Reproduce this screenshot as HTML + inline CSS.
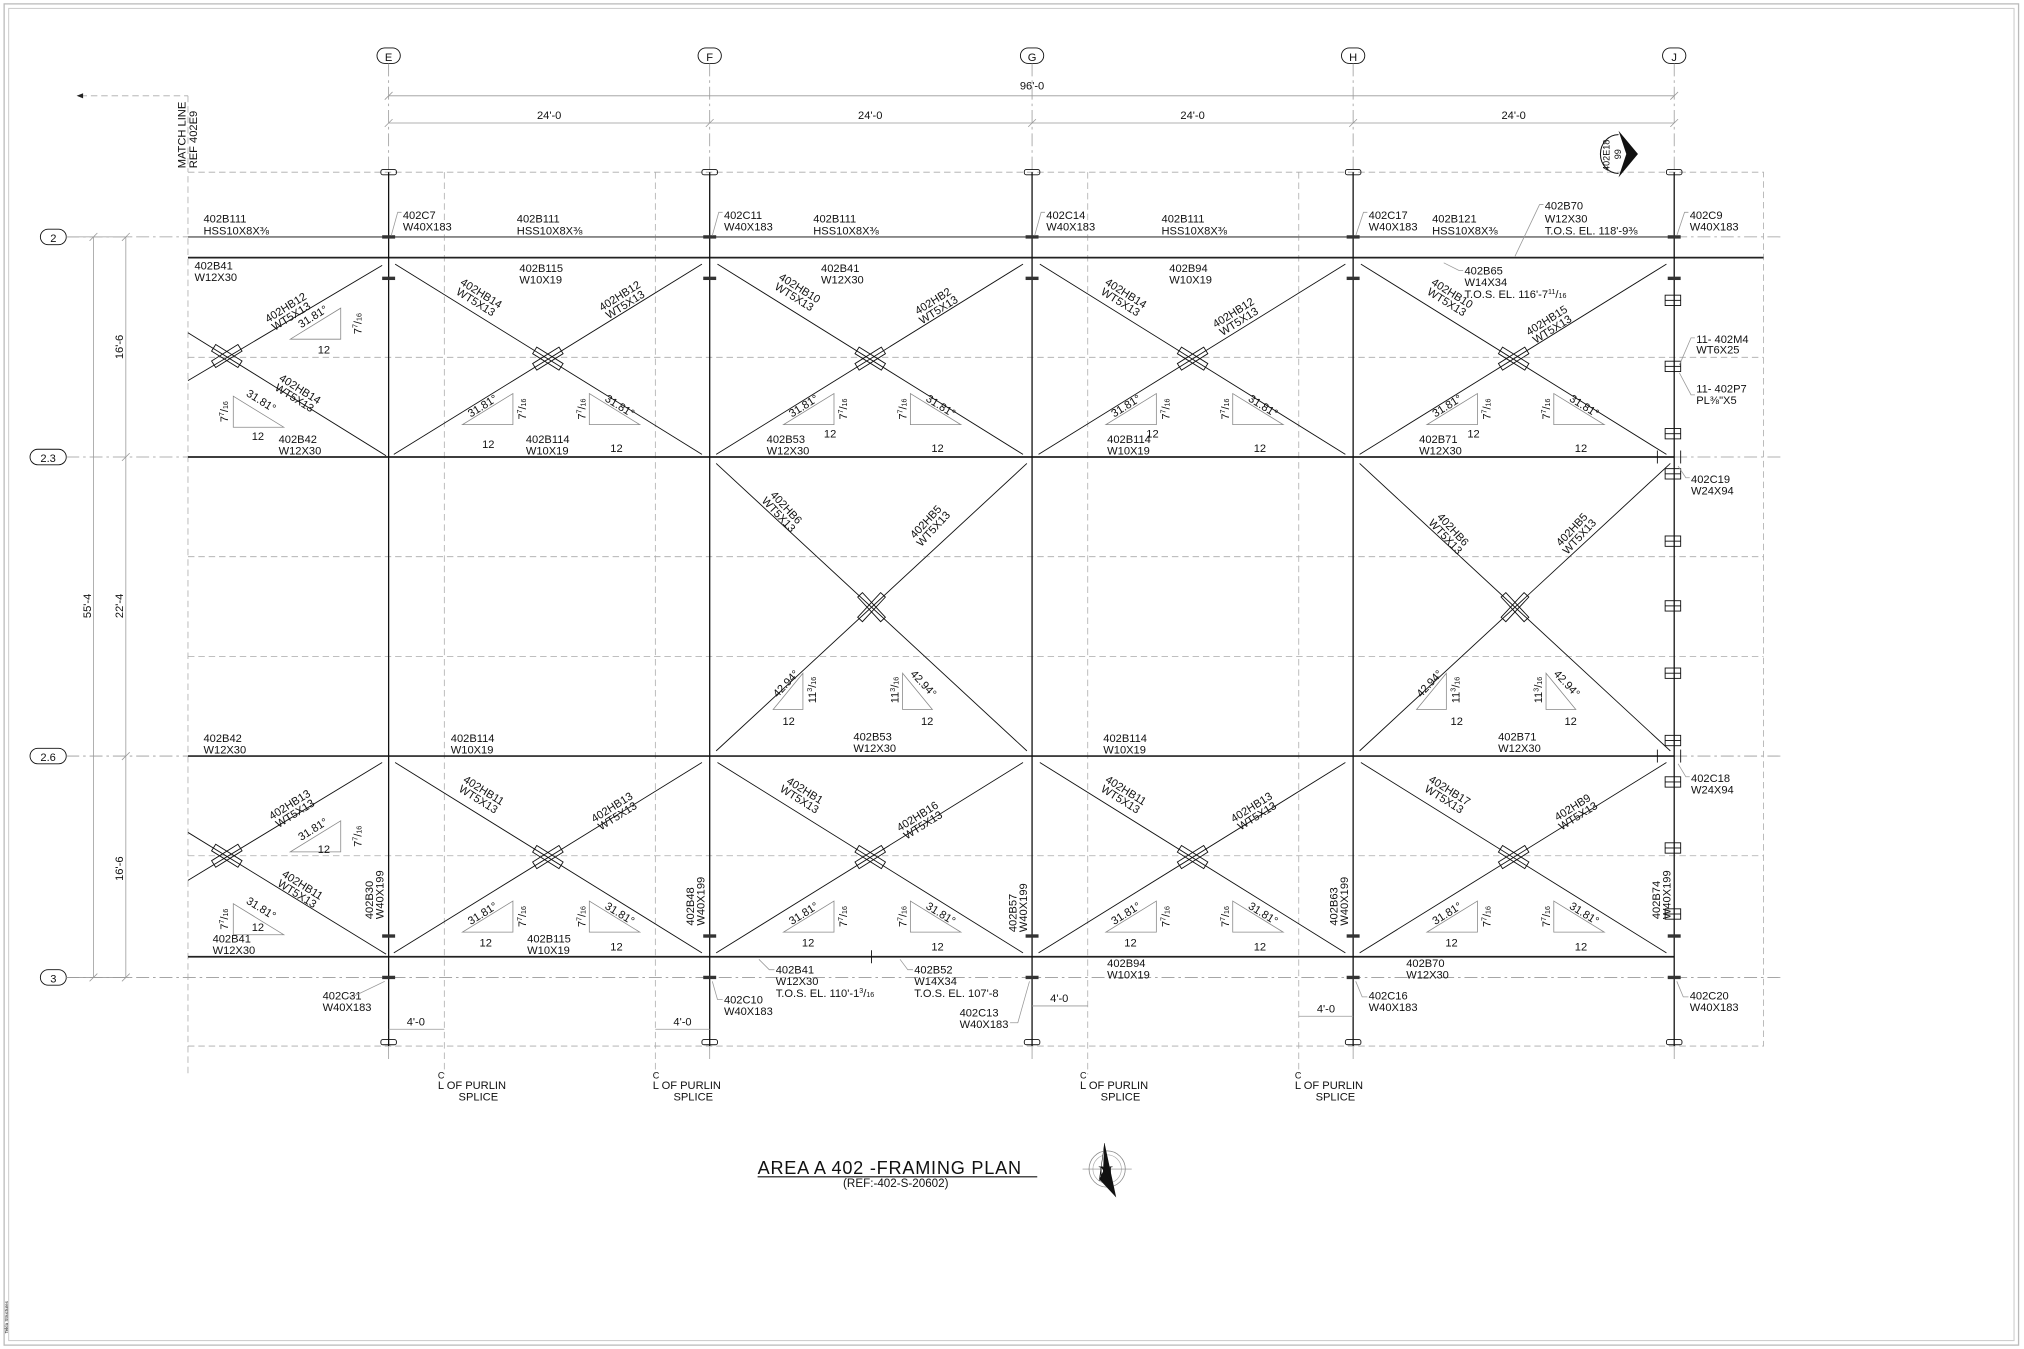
<!DOCTYPE html>
<html><head><meta charset="utf-8"><style>
html,body{margin:0;padding:0;background:#fff}
svg{display:block}
text{font-family:"Liberation Sans Narrow","Liberation Sans",sans-serif;font-size:8.6px;fill:#111}
.t{stroke:#111;stroke-width:.7;fill:none}
.b{stroke:#222;stroke-width:1.3;fill:none}
.g{stroke:#999;stroke-width:.6;fill:none}
.d{stroke:#aaa;stroke-width:.6;fill:none;stroke-dasharray:5 3}
.dd{stroke:#999;stroke-width:.6;fill:none;stroke-dasharray:10 3 2 3}
.tri{stroke:#888;stroke-width:.6;fill:none}
.s{font-size:5.5px}
</style></head><body>
<svg width="2024" height="1349" viewBox="0 0 1563 1042" xmlns="http://www.w3.org/2000/svg">
<defs>
<g id="xm"><rect x="-12" y="-3" width="24" height="6" class="t" transform="rotate(32)"/><rect x="-12" y="-3" width="24" height="6" class="t" transform="rotate(-32)"/></g>
<g id="xm2"><rect x="-13" y="-2.5" width="26" height="5" class="t" transform="rotate(47)"/><rect x="-13" y="-2.5" width="26" height="5" class="t" transform="rotate(-47)"/></g>
<g id="sp"><rect x="-6" y="-2" width="12" height="4" rx="1.5" class="t"/></g>
<g id="tk"><rect x="-5" y="-1.3" width="10" height="2.6" fill="#333"/></g>
<g id="dsp"><rect x="-6" y="-4" width="12" height="8" class="t"/><line x1="-6" y1="0" x2="6" y2="0" class="t"/></g>
<polygon id="tL" points="-39,0 0,0 0,-24" class="tri"/>
<polygon id="tR" points="0,0 0,-24 39,0" class="tri"/>
<polygon id="mL" points="-23,0 0,0 0,-28" class="tri"/>
<polygon id="mR" points="0,0 0,-28 23,0" class="tri"/>
</defs>
<rect x="3" y="3" width="1556" height="1036" fill="none" stroke="#bbb" stroke-width="1"/>
<rect x="6.5" y="6.5" width="1549" height="1029" fill="none" stroke="#ccc" stroke-width=".8"/>
<text x="0" y="0" transform="translate(6,1030) rotate(-90)" style="font-size:3.5px">Tekla Structures</text>

<g class="t">
<rect x="291" y="37" width="18" height="12" rx="6"/><rect x="539" y="37" width="18" height="12" rx="6"/><rect x="788" y="37" width="18" height="12" rx="6"/><rect x="1036" y="37" width="18" height="12" rx="6"/><rect x="1284" y="37" width="18" height="12" rx="6"/>
<rect x="31" y="177" width="20" height="12" rx="6"/><rect x="23" y="347" width="28" height="12" rx="6"/><rect x="23" y="578" width="28" height="12" rx="6"/><rect x="31" y="749" width="20" height="12" rx="6"/>
</g>
<g style="font-size:9px" text-anchor="middle">
<text x="300" y="47">E</text><text x="548" y="47">F</text><text x="797" y="47">G</text><text x="1045" y="47">H</text><text x="1293" y="47">J</text>
<text x="41" y="187">2</text><text x="37" y="357">2.3</text><text x="37" y="588">2.6</text><text x="41" y="759">3</text>
</g>
<g class="dd">
<line x1="300" y1="49" x2="300" y2="133"/><line x1="548" y1="49" x2="548" y2="133"/><line x1="797" y1="49" x2="797" y2="133"/><line x1="1045" y1="49" x2="1045" y2="133"/><line x1="1293" y1="49" x2="1293" y2="133"/>
<line x1="300" y1="808" x2="300" y2="818"/><line x1="548" y1="808" x2="548" y2="818"/><line x1="797" y1="808" x2="797" y2="818"/><line x1="1045" y1="808" x2="1045" y2="818"/><line x1="1293" y1="808" x2="1293" y2="818"/>
<line x1="51" y1="183" x2="145" y2="183"/><line x1="1293" y1="183" x2="1375" y2="183"/>
<line x1="51" y1="353" x2="145" y2="353"/><line x1="1293" y1="353" x2="1375" y2="353"/>
<line x1="51" y1="584" x2="145" y2="584"/><line x1="1293" y1="584" x2="1375" y2="584"/>
<line x1="51" y1="755" x2="1375" y2="755"/>
</g>
<g class="g">
<line x1="300" y1="74" x2="1293" y2="74"/><line x1="300" y1="95" x2="1293" y2="95"/>
<line x1="297" y1="77" x2="303" y2="71"/><line x1="1290" y1="77" x2="1296" y2="71"/>
<line x1="297" y1="98" x2="303" y2="92"/><line x1="545" y1="98" x2="551" y2="92"/><line x1="794" y1="98" x2="800" y2="92"/><line x1="1042" y1="98" x2="1048" y2="92"/><line x1="1290" y1="98" x2="1296" y2="92"/>
</g>
<g text-anchor="middle"><text x="797" y="69">96'-0</text><text x="424" y="92">24'-0</text><text x="672" y="92">24'-0</text><text x="921" y="92">24'-0</text><text x="1169" y="92">24'-0</text></g>
<line x1="62" y1="74" x2="145" y2="74" class="d" stroke="#666"/><polygon points="59,74 64,72 64,76" fill="#222"/>
<line x1="145" y1="74" x2="145" y2="133" class="d"/>
<text transform="translate(143,130) rotate(-90)">MATCH LINE</text><text transform="translate(152,130) rotate(-90)">REF 402E9</text>
<g class="g"><line x1="72" y1="183" x2="72" y2="755"/><line x1="97" y1="183" x2="97" y2="755"/>
<line x1="69" y1="186" x2="75" y2="180"/><line x1="69" y1="758" x2="75" y2="752"/>
<line x1="94" y1="186" x2="100" y2="180"/><line x1="94" y1="356" x2="100" y2="350"/><line x1="94" y1="587" x2="100" y2="581"/><line x1="94" y1="758" x2="100" y2="752"/>
<line x1="51" y1="183" x2="100" y2="183"/><line x1="51" y1="755" x2="100" y2="755"/></g>
<g text-anchor="middle"><text transform="translate(95,268) rotate(-90)">16'-6</text><text transform="translate(95,468) rotate(-90)">22'-4</text><text transform="translate(95,671) rotate(-90)">16'-6</text><text transform="translate(70,468) rotate(-90)">55'-4</text></g>

<g class="d">
<rect x="145" y="133" width="1217" height="675"/>
<line x1="145" y1="808" x2="145" y2="832"/>
<line x1="343" y1="133" x2="343" y2="830"/><line x1="506" y1="133" x2="506" y2="830"/><line x1="840" y1="133" x2="840" y2="830"/><line x1="1003" y1="133" x2="1003" y2="830"/>
<line x1="145" y1="276" x2="1362" y2="276"/><line x1="145" y1="430" x2="1362" y2="430"/><line x1="145" y1="507" x2="1362" y2="507"/><line x1="145" y1="661" x2="1362" y2="661"/>
</g>
<line x1="145" y1="183" x2="1293" y2="183" stroke="#777" stroke-width="1.3"/>
<g class="b">
<line x1="145" y1="199" x2="1362" y2="199"/>
<line x1="145" y1="353" x2="1293" y2="353"/>
<line x1="145" y1="584" x2="1293" y2="584"/>
<line x1="145" y1="739" x2="1293" y2="739"/>
</g>
<g class="t"><line x1="1280" y1="348" x2="1280" y2="358"/><line x1="1298" y1="348" x2="1298" y2="358"/><line x1="1280" y1="579" x2="1280" y2="589"/><line x1="1298" y1="579" x2="1298" y2="589"/><line x1="673" y1="734" x2="673" y2="744"/></g>
<g stroke="#111" stroke-width="1">
<line x1="300" y1="133" x2="300" y2="808"/><line x1="548" y1="133" x2="548" y2="808"/><line x1="797" y1="133" x2="797" y2="808"/><line x1="1045" y1="133" x2="1045" y2="808"/><line x1="1293" y1="133" x2="1293" y2="808"/>
</g>
<g>
<use href="#sp" x="300" y="133"/><use href="#sp" x="548" y="133"/><use href="#sp" x="797" y="133"/><use href="#sp" x="1045" y="133"/><use href="#sp" x="1293" y="133"/>
<use href="#sp" x="300" y="805"/><use href="#sp" x="548" y="805"/><use href="#sp" x="797" y="805"/><use href="#sp" x="1045" y="805"/><use href="#sp" x="1293" y="805"/>
<use href="#tk" x="300" y="183"/><use href="#tk" x="548" y="183"/><use href="#tk" x="797" y="183"/><use href="#tk" x="1045" y="183"/><use href="#tk" x="1293" y="183"/>
<use href="#tk" x="300" y="215"/><use href="#tk" x="548" y="215"/><use href="#tk" x="797" y="215"/><use href="#tk" x="1045" y="215"/><use href="#tk" x="1293" y="215"/>
<use href="#tk" x="300" y="723"/><use href="#tk" x="548" y="723"/><use href="#tk" x="797" y="723"/><use href="#tk" x="1045" y="723"/><use href="#tk" x="1293" y="723"/>
<use href="#tk" x="300" y="755"/><use href="#tk" x="548" y="755"/><use href="#tk" x="797" y="755"/><use href="#tk" x="1045" y="755"/><use href="#tk" x="1293" y="755"/>
<use href="#dsp" x="1292" y="232"/><use href="#dsp" x="1292" y="283"/><use href="#dsp" x="1292" y="335"/><use href="#dsp" x="1292" y="366"/><use href="#dsp" x="1292" y="418"/><use href="#dsp" x="1292" y="468"/><use href="#dsp" x="1292" y="520"/><use href="#dsp" x="1292" y="572"/><use href="#dsp" x="1292" y="604"/><use href="#dsp" x="1292" y="655"/><use href="#dsp" x="1292" y="706"/>
</g>

<g class="t">
<line x1="145" y1="257" x2="298" y2="352"/><line x1="145" y1="294" x2="295" y2="205"/>
<line x1="305" y1="204" x2="542" y2="351"/><line x1="304" y1="351" x2="542" y2="204"/>
<line x1="554" y1="204" x2="790" y2="351"/><line x1="553" y1="351" x2="790" y2="204"/>
<line x1="803" y1="204" x2="1039" y2="351"/><line x1="802" y1="351" x2="1039" y2="204"/>
<line x1="1051" y1="204" x2="1287" y2="351"/><line x1="1050" y1="351" x2="1287" y2="204"/>
<line x1="553" y1="358" x2="793" y2="580"/><line x1="553" y1="580" x2="793" y2="358"/>
<line x1="1050" y1="358" x2="1290" y2="580"/><line x1="1050" y1="580" x2="1290" y2="358"/>
<line x1="145" y1="643" x2="298" y2="737"/><line x1="145" y1="680" x2="295" y2="589"/>
<line x1="305" y1="589" x2="542" y2="736"/><line x1="304" y1="736" x2="542" y2="589"/>
<line x1="554" y1="589" x2="790" y2="736"/><line x1="553" y1="736" x2="790" y2="589"/>
<line x1="803" y1="589" x2="1039" y2="736"/><line x1="802" y1="736" x2="1039" y2="589"/>
<line x1="1051" y1="589" x2="1287" y2="736"/><line x1="1050" y1="736" x2="1287" y2="589"/>
</g>
<use href="#xm" x="175" y="275"/><use href="#xm" x="423" y="277"/><use href="#xm" x="672" y="277"/><use href="#xm" x="921" y="277"/><use href="#xm" x="1169" y="277"/>
<use href="#xm" x="175" y="661"/><use href="#xm" x="423" y="662"/><use href="#xm" x="672" y="662"/><use href="#xm" x="921" y="662"/><use href="#xm" x="1169" y="662"/>
<use href="#xm2" x="673" y="469"/><use href="#xm2" x="1170" y="469"/>

<use href="#tL" x="263" y="262"/><use href="#tR" x="180" y="330"/>
<use href="#tL" x="396" y="328"/><use href="#tR" x="455" y="328"/>
<use href="#tL" x="644" y="328"/><use href="#tR" x="703" y="328"/>
<use href="#tL" x="893" y="328"/><use href="#tR" x="952" y="328"/>
<use href="#tL" x="1141" y="328"/><use href="#tR" x="1200" y="328"/>
<use href="#tL" x="263" y="658"/><use href="#tR" x="180" y="722"/>
<use href="#tL" x="396" y="720"/><use href="#tR" x="455" y="720"/>
<use href="#tL" x="644" y="720"/><use href="#tR" x="703" y="720"/>
<use href="#tL" x="893" y="720"/><use href="#tR" x="952" y="720"/>
<use href="#tL" x="1141" y="720"/><use href="#tR" x="1200" y="720"/>
<use href="#mL" x="620" y="548"/><use href="#mR" x="697" y="548"/>
<use href="#mL" x="1117" y="548"/><use href="#mR" x="1194" y="548"/>

<g text-anchor="middle">
<text transform="translate(243,247) rotate(-32)">31.81°</text><text transform="translate(279,250) rotate(-90)">7<tspan class="s" dy="-3">7</tspan><tspan dy="3">/</tspan><tspan class="s">16</tspan></text><text x="250" y="273">12</text>
<text transform="translate(200,312) rotate(32)">31.81°</text><text transform="translate(176,318) rotate(-90)">7<tspan class="s" dy="-3">7</tspan><tspan dy="3">/</tspan><tspan class="s">16</tspan></text><text x="199" y="340">12</text>
<text transform="translate(374,316) rotate(-32)">31.81°</text><text transform="translate(406,316) rotate(-90)">7<tspan class="s" dy="-3">7</tspan><tspan dy="3">/</tspan><tspan class="s">16</tspan></text><text x="377" y="346">12</text>
<text transform="translate(477,316) rotate(32)">31.81°</text><text transform="translate(452,316) rotate(-90)">7<tspan class="s" dy="-3">7</tspan><tspan dy="3">/</tspan><tspan class="s">16</tspan></text><text x="476" y="349">12</text>
<text transform="translate(622,316) rotate(-32)">31.81°</text><text transform="translate(654,316) rotate(-90)">7<tspan class="s" dy="-3">7</tspan><tspan dy="3">/</tspan><tspan class="s">16</tspan></text><text x="641" y="338">12</text>
<text transform="translate(725,316) rotate(32)">31.81°</text><text transform="translate(700,316) rotate(-90)">7<tspan class="s" dy="-3">7</tspan><tspan dy="3">/</tspan><tspan class="s">16</tspan></text><text x="724" y="349">12</text>
<text transform="translate(871,316) rotate(-32)">31.81°</text><text transform="translate(903,316) rotate(-90)">7<tspan class="s" dy="-3">7</tspan><tspan dy="3">/</tspan><tspan class="s">16</tspan></text><text x="890" y="338">12</text>
<text transform="translate(974,316) rotate(32)">31.81°</text><text transform="translate(949,316) rotate(-90)">7<tspan class="s" dy="-3">7</tspan><tspan dy="3">/</tspan><tspan class="s">16</tspan></text><text x="973" y="349">12</text>
<text transform="translate(1119,316) rotate(-32)">31.81°</text><text transform="translate(1151,316) rotate(-90)">7<tspan class="s" dy="-3">7</tspan><tspan dy="3">/</tspan><tspan class="s">16</tspan></text><text x="1138" y="338">12</text>
<text transform="translate(1222,316) rotate(32)">31.81°</text><text transform="translate(1197,316) rotate(-90)">7<tspan class="s" dy="-3">7</tspan><tspan dy="3">/</tspan><tspan class="s">16</tspan></text><text x="1221" y="349">12</text>
<text transform="translate(243,643) rotate(-32)">31.81°</text><text transform="translate(279,646) rotate(-90)">7<tspan class="s" dy="-3">7</tspan><tspan dy="3">/</tspan><tspan class="s">16</tspan></text><text x="250" y="659">12</text>
<text transform="translate(200,704) rotate(32)">31.81°</text><text transform="translate(176,710) rotate(-90)">7<tspan class="s" dy="-3">7</tspan><tspan dy="3">/</tspan><tspan class="s">16</tspan></text><text x="199" y="719">12</text>
<text transform="translate(374,708) rotate(-32)">31.81°</text><text transform="translate(406,708) rotate(-90)">7<tspan class="s" dy="-3">7</tspan><tspan dy="3">/</tspan><tspan class="s">16</tspan></text><text x="375" y="731">12</text>
<text transform="translate(477,708) rotate(32)">31.81°</text><text transform="translate(452,708) rotate(-90)">7<tspan class="s" dy="-3">7</tspan><tspan dy="3">/</tspan><tspan class="s">16</tspan></text><text x="476" y="734">12</text>
<text transform="translate(622,708) rotate(-32)">31.81°</text><text transform="translate(654,708) rotate(-90)">7<tspan class="s" dy="-3">7</tspan><tspan dy="3">/</tspan><tspan class="s">16</tspan></text><text x="624" y="731">12</text>
<text transform="translate(725,708) rotate(32)">31.81°</text><text transform="translate(700,708) rotate(-90)">7<tspan class="s" dy="-3">7</tspan><tspan dy="3">/</tspan><tspan class="s">16</tspan></text><text x="724" y="734">12</text>
<text transform="translate(871,708) rotate(-32)">31.81°</text><text transform="translate(903,708) rotate(-90)">7<tspan class="s" dy="-3">7</tspan><tspan dy="3">/</tspan><tspan class="s">16</tspan></text><text x="873" y="731">12</text>
<text transform="translate(974,708) rotate(32)">31.81°</text><text transform="translate(949,708) rotate(-90)">7<tspan class="s" dy="-3">7</tspan><tspan dy="3">/</tspan><tspan class="s">16</tspan></text><text x="973" y="734">12</text>
<text transform="translate(1119,708) rotate(-32)">31.81°</text><text transform="translate(1151,708) rotate(-90)">7<tspan class="s" dy="-3">7</tspan><tspan dy="3">/</tspan><tspan class="s">16</tspan></text><text x="1121" y="731">12</text>
<text transform="translate(1222,708) rotate(32)">31.81°</text><text transform="translate(1197,708) rotate(-90)">7<tspan class="s" dy="-3">7</tspan><tspan dy="3">/</tspan><tspan class="s">16</tspan></text><text x="1221" y="734">12</text>
<text transform="translate(609,530) rotate(-47)">42.94°</text><text transform="translate(630,533) rotate(-90)">11<tspan class="s" dy="-3">3</tspan><tspan dy="3">/</tspan><tspan class="s">16</tspan></text><text x="609" y="560">12</text>
<text transform="translate(711,530) rotate(47)">42.94°</text><text transform="translate(694,533) rotate(-90)">11<tspan class="s" dy="-3">3</tspan><tspan dy="3">/</tspan><tspan class="s">16</tspan></text><text x="716" y="560">12</text>
<text transform="translate(1106,530) rotate(-47)">42.94°</text><text transform="translate(1127,533) rotate(-90)">11<tspan class="s" dy="-3">3</tspan><tspan dy="3">/</tspan><tspan class="s">16</tspan></text><text x="1125" y="560">12</text>
<text transform="translate(1208,530) rotate(47)">42.94°</text><text transform="translate(1191,533) rotate(-90)">11<tspan class="s" dy="-3">3</tspan><tspan dy="3">/</tspan><tspan class="s">16</tspan></text><text x="1213" y="560">12</text>
</g>

<g text-anchor="middle">
<g transform="translate(222,240) rotate(-32)"><text y="0">402HB12</text><text y="8">WT5X13</text></g>
<g transform="translate(230,303) rotate(32)"><text y="0">402HB14</text><text y="8">WT5X13</text></g>
<g transform="translate(370,229) rotate(32)"><text y="0">402HB14</text><text y="8">WT5X13</text></g>
<g transform="translate(480,231) rotate(-32)"><text y="0">402HB12</text><text y="8">WT5X13</text></g>
<g transform="translate(616,225) rotate(32)"><text y="0">402HB10</text><text y="8">WT5X13</text></g>
<g transform="translate(722,235) rotate(-32)"><text y="0">402HB2</text><text y="8">WT5X13</text></g>
<g transform="translate(868,229) rotate(32)"><text y="0">402HB14</text><text y="8">WT5X13</text></g>
<g transform="translate(954,244) rotate(-32)"><text y="0">402HB12</text><text y="8">WT5X13</text></g>
<g transform="translate(1120,229) rotate(32)"><text y="0">402HB10</text><text y="8">WT5X13</text></g>
<g transform="translate(1196,250) rotate(-32)"><text y="0">402HB15</text><text y="8">WT5X13</text></g>
<g transform="translate(605,394) rotate(47)"><text y="0">402HB6</text><text y="8">WT5X13</text></g>
<g transform="translate(717,405) rotate(-47)"><text y="0">402HB5</text><text y="8">WT5X13</text></g>
<g transform="translate(1120,411) rotate(47)"><text y="0">402HB6</text><text y="8">WT5X13</text></g>
<g transform="translate(1216,411) rotate(-47)"><text y="0">402HB5</text><text y="8">WT5X13</text></g>
<g transform="translate(225,624) rotate(-32)"><text y="0">402HB13</text><text y="8">WT5X13</text></g>
<g transform="translate(232,686) rotate(32)"><text y="0">402HB11</text><text y="8">WT5X13</text></g>
<g transform="translate(372,613) rotate(32)"><text y="0">402HB11</text><text y="8">WT5X13</text></g>
<g transform="translate(474,626) rotate(-32)"><text y="0">402HB13</text><text y="8">WT5X13</text></g>
<g transform="translate(620,613) rotate(32)"><text y="0">402HB1</text><text y="8">WT5X13</text></g>
<g transform="translate(710,633) rotate(-32)"><text y="0">402HB16</text><text y="8">WT5X13</text></g>
<g transform="translate(868,613) rotate(32)"><text y="0">402HB11</text><text y="8">WT5X13</text></g>
<g transform="translate(968,626) rotate(-32)"><text y="0">402HB13</text><text y="8">WT5X13</text></g>
<g transform="translate(1118,613) rotate(32)"><text y="0">402HB17</text><text y="8">WT5X13</text></g>
<g transform="translate(1216,626) rotate(-32)"><text y="0">402HB9</text><text y="8">WT5X13</text></g>
</g>

<g>
<text x="157" y="172">402B111</text><text x="157" y="181">HSS10X8X⅜</text>
<text x="311" y="169">402C7</text><text x="311" y="178">W40X183</text>
<text x="399" y="172">402B111</text><text x="399" y="181">HSS10X8X⅜</text>
<text x="559" y="169">402C11</text><text x="559" y="178">W40X183</text>
<text x="628" y="172">402B111</text><text x="628" y="181">HSS10X8X⅜</text>
<text x="808" y="169">402C14</text><text x="808" y="178">W40X183</text>
<text x="897" y="172">402B111</text><text x="897" y="181">HSS10X8X⅜</text>
<text x="1057" y="169">402C17</text><text x="1057" y="178">W40X183</text>
<text x="1106" y="172">402B121</text><text x="1106" y="181">HSS10X8X⅜</text>
<text x="1193" y="162">402B70</text><text x="1193" y="172">W12X30</text><text x="1193" y="181">T.O.S. EL. 118'-9⅜</text>
<text x="1305" y="169">402C9</text><text x="1305" y="178">W40X183</text>
<text x="150" y="208">402B41</text><text x="150" y="217">W12X30</text>
<text x="401" y="210">402B115</text><text x="401" y="219">W10X19</text>
<text x="634" y="210">402B41</text><text x="634" y="219">W12X30</text>
<text x="903" y="210">402B94</text><text x="903" y="219">W10X19</text>
<text x="1131" y="212">402B65</text><text x="1131" y="221">W14X34</text><text x="1131" y="230">T.O.S. EL. 116'-7<tspan class="s" dy="-3">11</tspan><tspan dy="3">/</tspan><tspan class="s">16</tspan></text>
<text x="1310" y="265">11- 402M4</text><text x="1310" y="273">WT6X25</text>
<text x="1310" y="303">11- 402P7</text><text x="1310" y="312">PL⅜"X5</text>
<text x="215" y="342">402B42</text><text x="215" y="351">W12X30</text>
<text x="406" y="342">402B114</text><text x="406" y="351">W10X19</text>
<text x="592" y="342">402B53</text><text x="592" y="351">W12X30</text>
<text x="855" y="342">402B114</text><text x="855" y="351">W10X19</text>
<text x="1096" y="342">402B71</text><text x="1096" y="351">W12X30</text>
<text x="1306" y="373">402C19</text><text x="1306" y="382">W24X94</text>
<text x="659" y="572">402B53</text><text x="659" y="581">W12X30</text>
<text x="1157" y="572">402B71</text><text x="1157" y="581">W12X30</text>
<text x="157" y="573">402B42</text><text x="157" y="582">W12X30</text>
<text x="348" y="573">402B114</text><text x="348" y="582">W10X19</text>
<text x="852" y="573">402B114</text><text x="852" y="582">W10X19</text>
<text x="1306" y="604">402C18</text><text x="1306" y="613">W24X94</text>
<text x="164" y="728">402B41</text><text x="164" y="737">W12X30</text>
<text x="407" y="728">402B115</text><text x="407" y="737">W10X19</text>
<text x="599" y="752">402B41</text><text x="599" y="761">W12X30</text><text x="599" y="770">T.O.S. EL. 110'-1<tspan class="s" dy="-3">3</tspan><tspan dy="3">/</tspan><tspan class="s">16</tspan></text>
<text x="706" y="752">402B52</text><text x="706" y="761">W14X34</text><text x="706" y="770">T.O.S. EL. 107'-8</text>
<text x="855" y="747">402B94</text><text x="855" y="756">W10X19</text>
<text x="1086" y="747">402B70</text><text x="1086" y="756">W12X30</text>
<text x="249" y="772">402C31</text><text x="249" y="781">W40X183</text>
<text x="559" y="775">402C10</text><text x="559" y="784">W40X183</text>
<text x="741" y="785">402C13</text><text x="741" y="794">W40X183</text>
<text x="1057" y="772">402C16</text><text x="1057" y="781">W40X183</text>
<text x="1305" y="772">402C20</text><text x="1305" y="781">W40X183</text>
</g>
<g>
<text transform="translate(288,710) rotate(-90)">402B30</text><text transform="translate(296,710) rotate(-90)">W40X199</text>
<text transform="translate(536,715) rotate(-90)">402B48</text><text transform="translate(544,715) rotate(-90)">W40X199</text>
<text transform="translate(785,720) rotate(-90)">402B57</text><text transform="translate(793,720) rotate(-90)">W40X199</text>
<text transform="translate(1033,715) rotate(-90)">402B63</text><text transform="translate(1041,715) rotate(-90)">W40X199</text>
<text transform="translate(1282,710) rotate(-90)">402B74</text><text transform="translate(1290,710) rotate(-90)">W40X199</text>
</g>
<g class="g" stroke="#666">
<polyline points="310,164 307,164 302,182"/><polyline points="558,164 555,164 550,182"/><polyline points="807,164 804,164 799,182"/><polyline points="1056,164 1053,164 1047,182"/><polyline points="1304,164 1301,164 1295,182"/>
<polyline points="1192,158 1189,158 1170,198"/><polyline points="1130,209 1127,209 1115,203"/>
<polyline points="1309,261 1306,261 1297,282"/><polyline points="1309,305 1306,305 1297,288"/>
<polyline points="1305,369 1302,369 1296,360"/><polyline points="1305,600 1302,600 1296,590"/>
<polyline points="268,770 272,770 297,758"/><polyline points="558,772 554,772 550,758"/><polyline points="780,790 786,790 795,758"/><polyline points="1056,770 1052,770 1047,758"/><polyline points="1304,770 1300,770 1295,758"/>
<polyline points="598,749 594,749 586,741"/><polyline points="705,749 701,749 695,741"/>
</g>
<g class="g"><line x1="300" y1="795" x2="343" y2="795"/><line x1="506" y1="795" x2="548" y2="795"/><line x1="797" y1="777" x2="840" y2="777"/><line x1="1003" y1="785" x2="1045" y2="785"/></g>
<g text-anchor="middle"><text x="321" y="792">4'-0</text><text x="527" y="792">4'-0</text><text x="818" y="774">4'-0</text><text x="1024" y="782">4'-0</text></g>
<g>
<text x="338" y="833" style="font-size:7px">C</text><text x="338" y="841">L OF PURLIN</text><text x="354" y="850">SPLICE</text>
<text x="504" y="833" style="font-size:7px">C</text><text x="504" y="841">L OF PURLIN</text><text x="520" y="850">SPLICE</text>
<text x="834" y="833" style="font-size:7px">C</text><text x="834" y="841">L OF PURLIN</text><text x="850" y="850">SPLICE</text>
<text x="1000" y="833" style="font-size:7px">C</text><text x="1000" y="841">L OF PURLIN</text><text x="1016" y="850">SPLICE</text>
</g>
<!-- section marker -->
<path d="M1250,104 A14,15 0 0 0 1250,134" fill="none" stroke="#111" stroke-width=".8"/>
<polygon points="1250,101 1265,119 1250,137 1256,119" fill="#111"/>
<text transform="translate(1243,132) rotate(-90)" style="font-size:7px">402E18</text><text transform="translate(1252,123) rotate(-90)" style="font-size:7px">99</text>

<text x="585" y="907" style="font-family:'Liberation Sans',sans-serif;font-size:14px;letter-spacing:.6px">AREA A 402 -FRAMING PLAN</text>
<line x1="585" y1="909" x2="801" y2="909" stroke="#111" stroke-width=".8"/>
<text x="651" y="917" style="font-family:'Liberation Sans',sans-serif;font-size:9px">(REF:-402-S-20602)</text>
<circle cx="855" cy="903" r="14" fill="none" stroke="#888" stroke-width=".6"/>
<circle cx="855" cy="903" r="11" fill="none" stroke="#aaa" stroke-width=".5"/>
<line x1="836" y1="903" x2="874" y2="903" stroke="#888" stroke-width=".5"/>
<polygon points="853,883 849,911 862,925" fill="#111"/>
<polygon points="853,883 849,911 852,905" fill="#fff" stroke="#111" stroke-width=".4"/>
<text x="848" y="912" style="font-family:'Liberation Serif',serif;font-size:16px">N</text>
</svg>
</body></html>
